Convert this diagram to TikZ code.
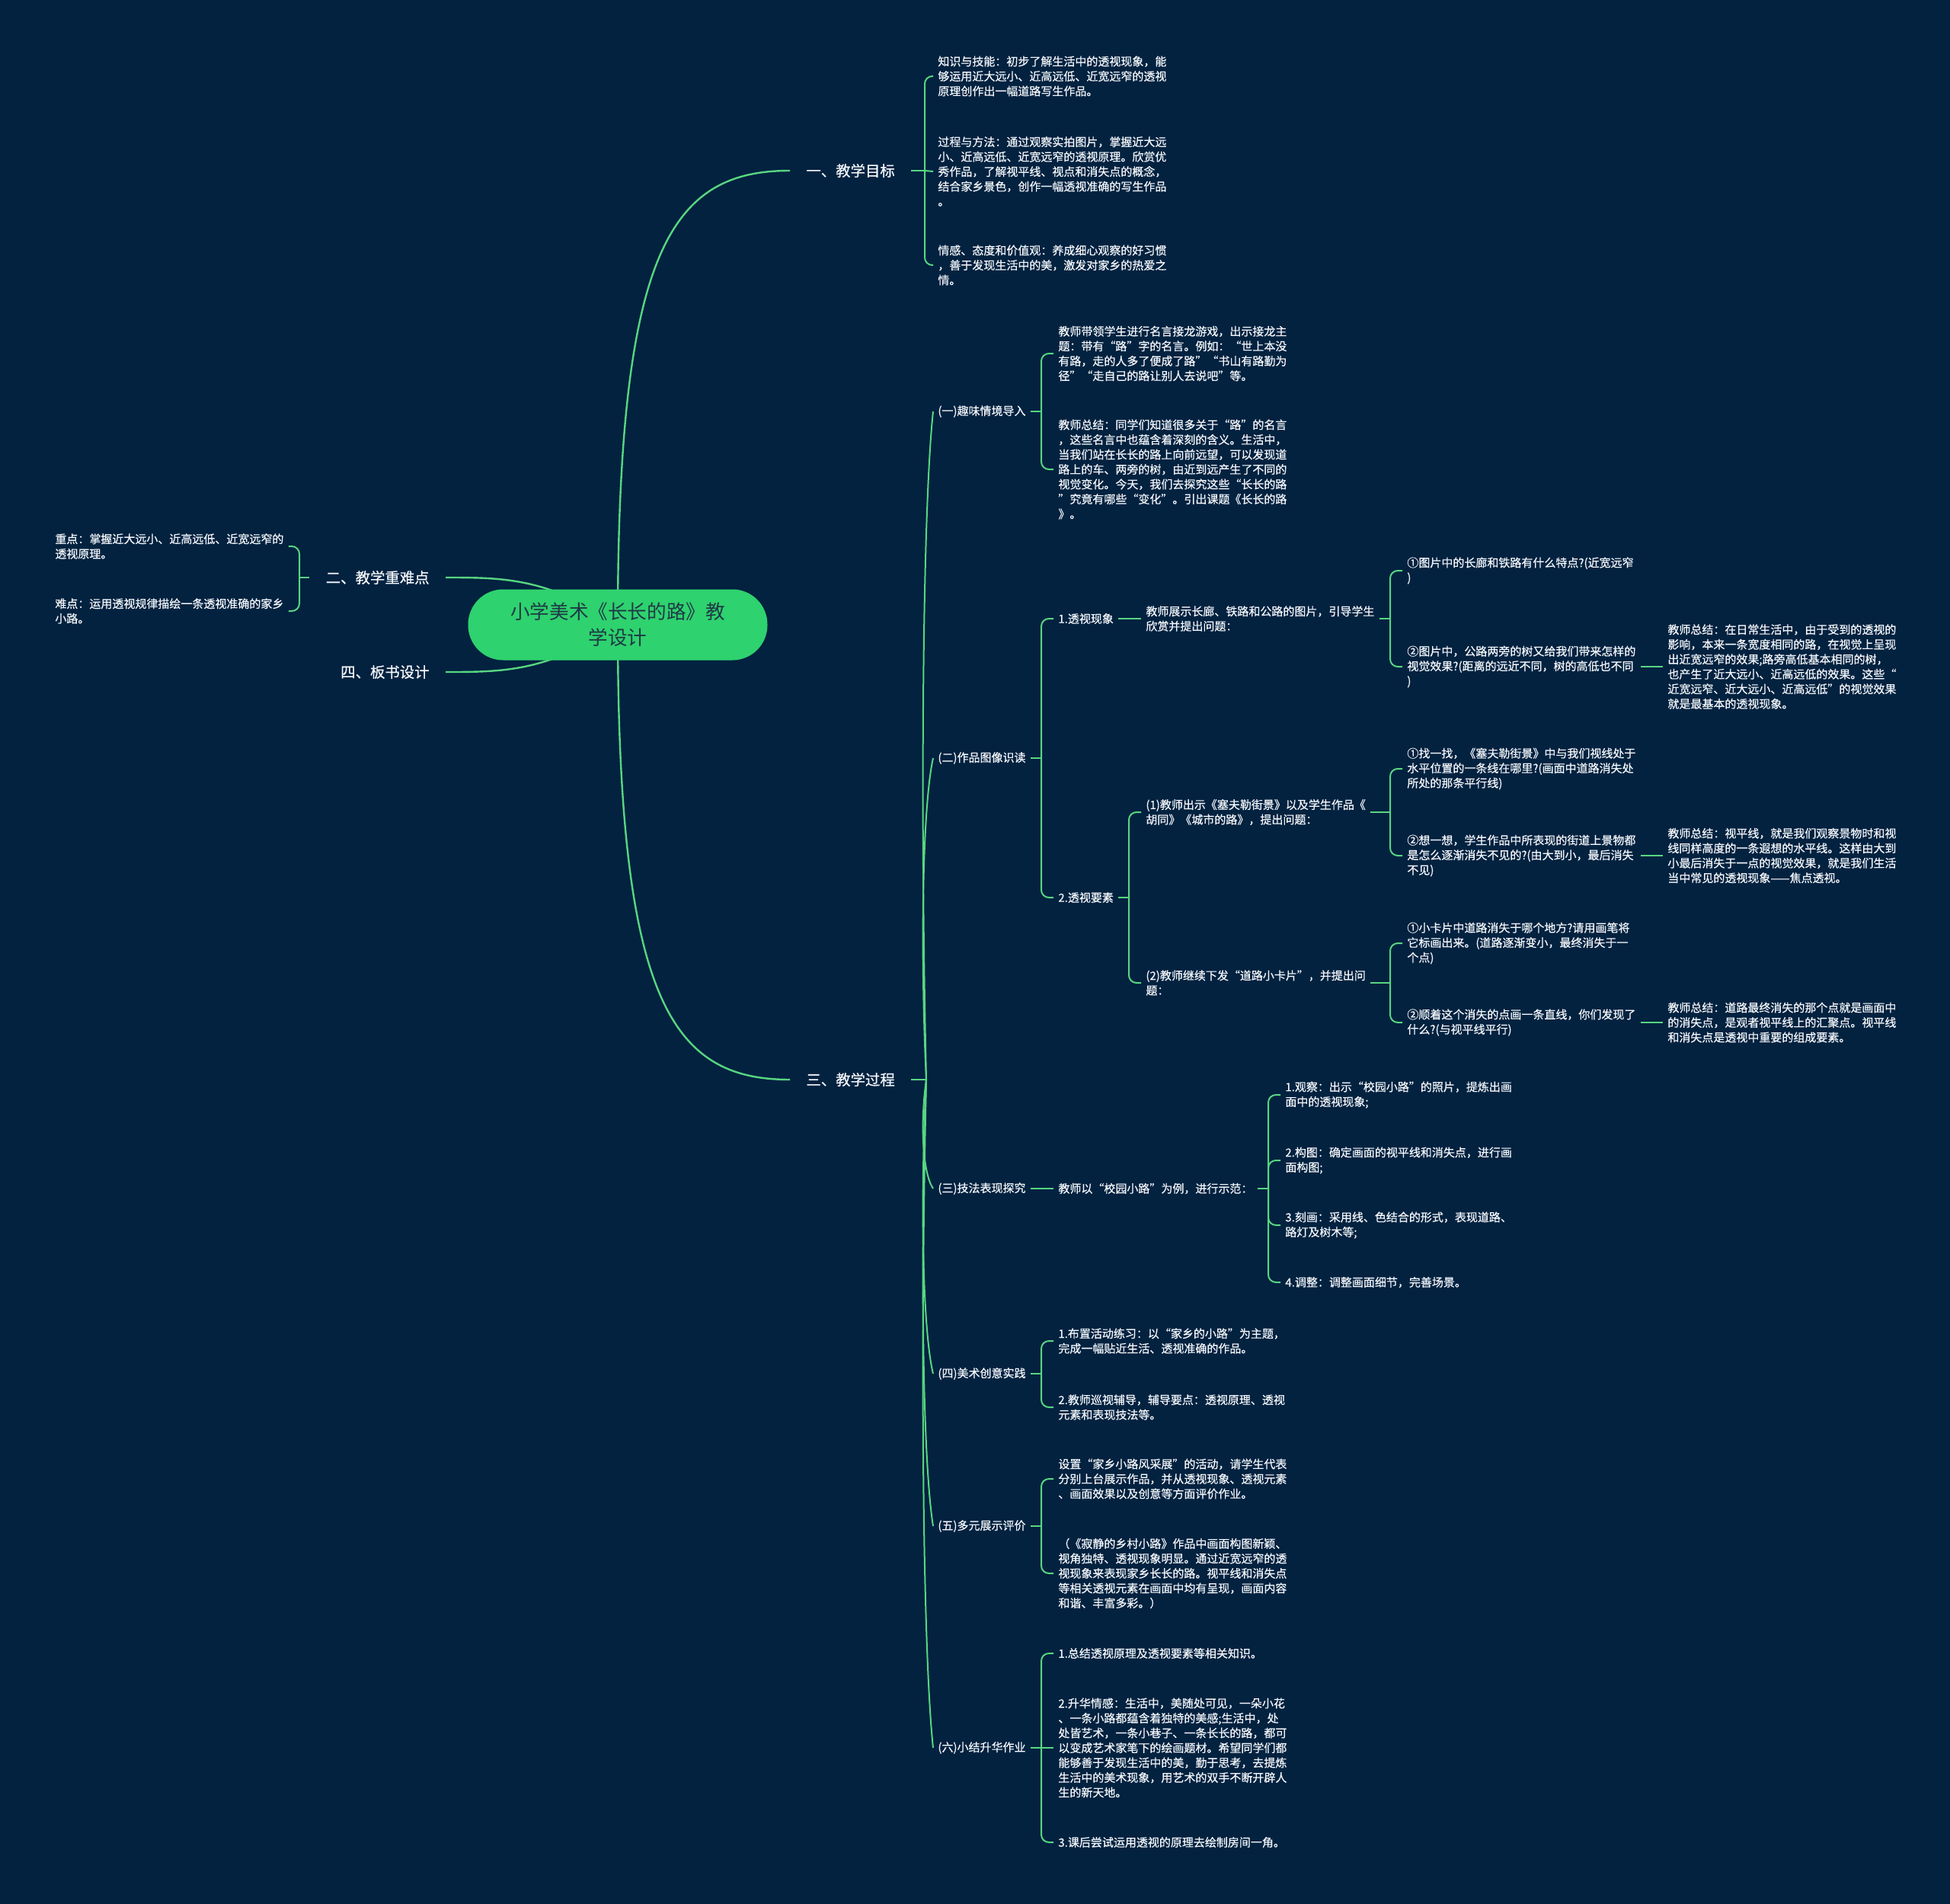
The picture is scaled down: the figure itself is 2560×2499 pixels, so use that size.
\documentclass[tikz,border=0pt]{standalone}
\usepackage{fontspec}
\newfontfamily\cjk[FakeBold=0.5]{Noto Sans CJK SC}
\newfontfamily\cjkroot{Noto Sans CJK SC}
\definecolor{bgnavy}{RGB}{2,34,64}
\definecolor{wire}{RGB}{88,214,128}
\definecolor{rootfill}{RGB}{46,210,110}
\definecolor{roottext}{RGB}{30,58,70}
\definecolor{paper}{RGB}{244,246,250}

\begin{document}
\begin{tikzpicture}[
  x=0.5pt, y=-0.5pt,
  leaf/.style={font=\cjk\fontsize{7.5}{9.75}\selectfont, text=paper, align=left, anchor=west, inner xsep=3pt, inner ysep=1pt},
  topic/.style={font=\cjk\fontsize{9.7}{12}\selectfont, text=paper, inner xsep=10.5pt, inner ysep=2pt},
  rootnode/.style={fill=rootfill, text=roottext, rounded corners=23pt, align=center, minimum width=196.5pt, minimum height=46.5pt, font=\cjkroot\fontsize{12.8}{17}\selectfont},
  link/.style={draw=wire, line width=1pt},
  mainlink/.style={draw=wire, line width=1.2pt},
  brace/.style={link, rounded corners=5pt}
]
\fill[bgnavy] (0,0) rectangle (2560,2499);
\useasboundingbox (0,0) rectangle (2560,2499);

% Level 1 topics
\coordinate (hub) at (811,820);
\node[topic, anchor=west] (tgoal) at (1037,224) {一、教学目标};
\node[topic, anchor=west] (tproc) at (1037,1417) {三、教学过程};
\node[topic, anchor=east] (tkey) at (585,758) {二、教学重难点};
\node[topic, anchor=east] (tboard) at (585,882) {四、板书设计};

\draw[mainlink] (hub) .. controls (811,330) and (880,224) .. (tgoal.west);
\draw[mainlink] (hub) .. controls (811,1310) and (880,1417) .. (tproc.west);
\draw[mainlink] (hub) .. controls (720,758) and (660,758) .. (tkey.east);
\draw[mainlink] (hub) .. controls (720,882) and (660,882) .. (tboard.east);

\node[rootnode] (root) at (hub) {小学美术《长长的路》教\\学设计};

% 一、教学目标
\node[leaf] (gKnow) at (1225,100) {知识与技能：初步了解生活中的透视现象，能\\够运用近大远小、近高远低、近宽远窄的透视\\原理创作出一幅道路写生作品。};
\node[leaf] (gProc) at (1225,225) {过程与方法：通过观察实拍图片，掌握近大远\\小、近高远低、近宽远窄的透视原理。欣赏优\\秀作品，了解视平线、视点和消失点的概念，\\结合家乡景色，创作一幅透视准确的写生作品\\。};
\node[leaf] (gEmo) at (1225,348) {情感、态度和价值观：养成细心观察的好习惯\\，善于发现生活中的美，激发对家乡的热爱之\\情。};
\coordinate (bGoal) at (1214,224);
\draw[link] (tgoal.east) -- (bGoal);
\draw[brace] (gKnow.west) -| (bGoal) |- (gEmo.west);
\draw[link] (bGoal) -- (gProc.west);

% 二、教学重难点
\node[leaf] (keyA) at (66,717) {重点：掌握近大远小、近高远低、近宽远窄的\\透视原理。};
\node[leaf] (keyB) at (66,802) {难点：运用透视规律描绘一条透视准确的家乡\\小路。};
\coordinate (bKey) at (393,758);
\draw[link] (tkey.west) -- (bKey);
\draw[brace] (keyA.east) -| (bKey) |- (keyB.east);

% 三、教学过程
\node[leaf] (intro) at (1225,540) {(一)趣味情境导入};
\node[leaf] (read) at (1225,995) {(二)作品图像识读};
\node[leaf] (skill) at (1225,1560) {(三)技法表现探究};
\node[leaf] (practice) at (1225,1803) {(四)美术创意实践};
\node[leaf] (show) at (1225,2003) {(五)多元展示评价};
\node[leaf] (sumup) at (1225,2294) {(六)小结升华作业};
\coordinate (bProc) at (1216,1417);
\draw[link] (tproc.east) -- (bProc);
\draw[link] (bProc) .. controls +(-8,-351) and +(-14,132) .. (intro.west);
\draw[link] (bProc) .. controls +(-8,-169) and +(-14,63) .. (read.west);
\draw[link] (bProc) .. controls +(-8,57) and +(-14,-21) .. (skill.west);
\draw[link] (bProc) .. controls +(-8,154) and +(-14,-58) .. (practice.west);
\draw[link] (bProc) .. controls +(-8,234) and +(-14,-88) .. (show.west);
\draw[link] (bProc) .. controls +(-8,351) and +(-14,-132) .. (sumup.west);

% (一)
\node[leaf] (introA) at (1383,464) {教师带领学生进行名言接龙游戏，出示接龙主\\题：带有“路”字的名言。例如：“世上本没\\有路，走的人多了便成了路”“书山有路勤为\\径”“走自己的路让别人去说吧”等。};
\node[leaf] (introB) at (1383,616) {教师总结：同学们知道很多关于“路”的名言\\，这些名言中也蕴含着深刻的含义。生活中，\\当我们站在长长的路上向前远望，可以发现道\\路上的车、两旁的树，由近到远产生了不同的\\视觉变化。今天，我们去探究这些“长长的路\\”究竟有哪些“变化”。引出课题《长长的路\\》。};
\coordinate (bIntro) at (1367,540);
\draw[link] (intro.east) -- (bIntro);
\draw[brace] (introA.west) -| (bIntro) |- (introB.west);

% (二)
\node[leaf] (phen) at (1383,812) {1.透视现象};
\node[leaf] (elem) at (1383,1178) {2.透视要素};
\coordinate (bRead) at (1367,995);
\draw[link] (read.east) -- (bRead);
\draw[brace] (phen.west) -| (bRead) |- (elem.west);

\node[leaf] (phenQ) at (1498,812) {教师展示长廊、铁路和公路的图片，引导学生\\欣赏并提出问题：};
\draw[link] (phen.east) -- (phenQ.west);
\node[leaf] (phenQa) at (1841,749) {①图片中的长廊和铁路有什么特点?(近宽远窄\\)};
\node[leaf] (phenQb) at (1841,875) {②图片中，公路两旁的树又给我们带来怎样的\\视觉效果?(距离的远近不同，树的高低也不同\\)};
\coordinate (bPhen) at (1825,812);
\draw[link] (phenQ.east) -- (bPhen);
\draw[brace] (phenQa.west) -| (bPhen) |- (phenQb.west);
\node[leaf] (phenSum) at (2183,875) {教师总结：在日常生活中，由于受到的透视的\\影响，本来一条宽度相同的路，在视觉上呈现\\出近宽远窄的效果;路旁高低基本相同的树，\\也产生了近大远小、近高远低的效果。这些“\\近宽远窄、近大远小、近高远低”的视觉效果\\就是最基本的透视现象。};
\draw[link] (phenQb.east) -- (phenSum.west);

\node[leaf] (elemA) at (1498,1066) {(1)教师出示《塞夫勒街景》以及学生作品《\\胡同》《城市的路》，提出问题：};
\node[leaf] (elemB) at (1498,1290) {(2)教师继续下发“道路小卡片”，并提出问\\题：};
\coordinate (bElem) at (1482,1178);
\draw[link] (elem.east) -- (bElem);
\draw[brace] (elemA.west) -| (bElem) |- (elemB.west);

\node[leaf] (elemAa) at (1841,1009) {①找一找，《塞夫勒街景》中与我们视线处于\\水平位置的一条线在哪里?(画面中道路消失处\\所处的那条平行线)};
\node[leaf] (elemAb) at (1841,1123) {②想一想，学生作品中所表现的街道上景物都\\是怎么逐渐消失不见的?(由大到小，最后消失\\不见)};
\coordinate (bElemA) at (1825,1066);
\draw[link] (elemA.east) -- (bElemA);
\draw[brace] (elemAa.west) -| (bElemA) |- (elemAb.west);
\node[leaf] (elemAsum) at (2183,1123) {教师总结：视平线，就是我们观察景物时和视\\线同样高度的一条遐想的水平线。这样由大到\\小最后消失于一点的视觉效果，就是我们生活\\当中常见的透视现象——焦点透视。};
\draw[link] (elemAb.east) -- (elemAsum.west);

\node[leaf] (elemBa) at (1841,1238) {①小卡片中道路消失于哪个地方?请用画笔将\\它标画出来。(道路逐渐变小，最终消失于一\\个点)};
\node[leaf] (elemBb) at (1841,1342) {②顺着这个消失的点画一条直线，你们发现了\\什么?(与视平线平行)};
\coordinate (bElemB) at (1825,1290);
\draw[link] (elemB.east) -- (bElemB);
\draw[brace] (elemBa.west) -| (bElemB) |- (elemBb.west);
\node[leaf] (elemBsum) at (2183,1342) {教师总结：道路最终消失的那个点就是画面中\\的消失点，是观者视平线上的汇聚点。视平线\\和消失点是透视中重要的组成要素。};
\draw[link] (elemBb.east) -- (elemBsum.west);

% (三)
\node[leaf] (skillDemo) at (1383,1560) {教师以“校园小路”为例，进行示范：};
\draw[link] (skill.east) -- (skillDemo.west);
\node[leaf] (skillA) at (1681,1437) {1.观察：出示“校园小路”的照片，提炼出画\\面中的透视现象;};
\node[leaf] (skillB) at (1681,1523) {2.构图：确定画面的视平线和消失点，进行画\\面构图;};
\node[leaf] (skillC) at (1681,1608) {3.刻画：采用线、色结合的形式，表现道路、\\路灯及树木等;};
\node[leaf] (skillD) at (1681,1683) {4.调整：调整画面细节，完善场景。};
\coordinate (bSkill) at (1665,1560);
\draw[link] (skillDemo.east) -- (bSkill);
\draw[brace] (skillA.west) -| (bSkill) |- (skillD.west);
\draw[brace] (bSkill) |- (skillB.west);
\draw[brace] (bSkill) |- (skillC.west);

% (四)
\node[leaf] (pracA) at (1383,1760) {1.布置活动练习：以“家乡的小路”为主题，\\完成一幅贴近生活、透视准确的作品。};
\node[leaf] (pracB) at (1383,1847) {2.教师巡视辅导，辅导要点：透视原理、透视\\元素和表现技法等。};
\coordinate (bPrac) at (1367,1803);
\draw[link] (practice.east) -- (bPrac);
\draw[brace] (pracA.west) -| (bPrac) |- (pracB.west);

% (五)
\node[leaf] (showA) at (1383,1941) {设置“家乡小路风采展”的活动，请学生代表\\分别上台展示作品，并从透视现象、透视元素\\、画面效果以及创意等方面评价作业。};
\node[leaf] (showB) at (1383,2065) {（《寂静的乡村小路》作品中画面构图新颖、\\视角独特、透视现象明显。通过近宽远窄的透\\视现象来表现家乡长长的路。视平线和消失点\\等相关透视元素在画面中均有呈现，画面内容\\和谐、丰富多彩。）};
\coordinate (bShow) at (1367,2003);
\draw[link] (show.east) -- (bShow);
\draw[brace] (showA.west) -| (bShow) |- (showB.west);

% (六)
\node[leaf] (sumA) at (1383,2170) {1.总结透视原理及透视要素等相关知识。};
\node[leaf] (sumB) at (1383,2294) {2.升华情感：生活中，美随处可见，一朵小花\\、一条小路都蕴含着独特的美感;生活中，处\\处皆艺术，一条小巷子、一条长长的路，都可\\以变成艺术家笔下的绘画题材。希望同学们都\\能够善于发现生活中的美，勤于思考，去提炼\\生活中的美术现象，用艺术的双手不断开辟人\\生的新天地。};
\node[leaf] (sumC) at (1383,2418) {3.课后尝试运用透视的原理去绘制房间一角。};
\coordinate (bSum) at (1367,2294);
\draw[link] (sumup.east) -- (bSum);
\draw[brace] (sumA.west) -| (bSum) |- (sumC.west);
\draw[link] (bSum) -- (sumB.west);
\end{tikzpicture}
\end{document}
